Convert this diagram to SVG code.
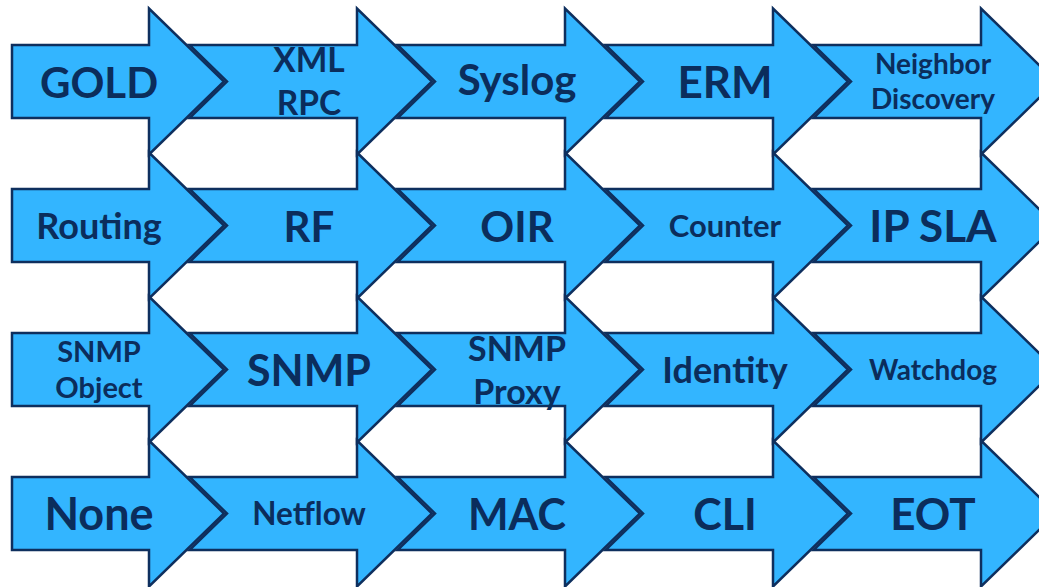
<svg xmlns="http://www.w3.org/2000/svg" width="1039" height="587" viewBox="0 0 1039 587">
<style>
.a{fill:#33B5FF;stroke:#0E2F5E;stroke-width:2.5;stroke-linejoin:miter}
text{font-family:Lato,"Open Sans","Liberation Sans",sans-serif;font-weight:700;fill:#0B2D5C;text-anchor:middle}
</style>
<defs>
<path id="first" d="M12,-36.5 H149 V-73 L224,0 L149,73 V36.5 H12 Z"/>
<path id="next" d="M-18.5,-36.5 H149 V-73 L224,0 L149,73 V36.5 H-18.5 L19,0 Z"/>
</defs>
<rect width="1039" height="587" fill="#ffffff"/>
<g id="row1" transform="translate(0,81.5)">
<g id="gold"><use href="#first" class="a"/><text font-size="42" x="99" y="16">GOLD</text></g>
<g id="xmlrpc" transform="translate(208,0)"><use href="#next" class="a"/><text font-size="33.5" x="101" y="-9.5">XML</text><text font-size="33.5" x="101" y="33.5">RPC</text></g>
<g id="syslog" transform="translate(416,0)"><use href="#next" class="a"/><text font-size="42" x="101" y="13.5">Syslog</text></g>
<g id="erm" transform="translate(624,0)"><use href="#next" class="a"/><text font-size="44" x="101" y="16">ERM</text></g>
<g id="neighbor" transform="translate(832,0)"><use href="#next" class="a"/><text font-size="28" x="101" y="-7.5">Neighbor</text><text font-size="28" x="101" y="27.5">Discovery</text></g>
</g>
<g id="row2" transform="translate(0,225.5)">
<g id="routing"><use href="#first" class="a"/><text font-size="36" x="99" y="13.5">Routing</text></g>
<g id="rf" transform="translate(208,0)"><use href="#next" class="a"/><text font-size="42" x="101" y="16.5">RF</text></g>
<g id="oir" transform="translate(416,0)"><use href="#next" class="a"/><text font-size="42" x="101" y="16.5">OIR</text></g>
<g id="counter" transform="translate(624,0)"><use href="#next" class="a"/><text font-size="31" x="101" y="11.5">Counter</text></g>
<g id="ipsla" transform="translate(832,0)"><use href="#next" class="a"/><text font-size="44" x="101" y="16.5">IP SLA</text></g>
</g>
<g id="row3" transform="translate(0,369.5)">
<g id="snmpobject"><use href="#first" class="a"/><text font-size="29" x="99" y="-7.5">SNMP</text><text font-size="29" x="99" y="28.5">Object</text></g>
<g id="snmp" transform="translate(208,0)"><use href="#next" class="a"/><text font-size="43" x="101" y="16">SNMP</text></g>
<g id="snmpproxy" transform="translate(416,0)"><use href="#next" class="a"/><text font-size="34" x="101" y="-8.5">SNMP</text><text font-size="34" x="101" y="34.5">Proxy</text></g>
<g id="identity" transform="translate(624,0)"><use href="#next" class="a"/><text font-size="36" x="101" y="13.5">Identity</text></g>
<g id="watchdog" transform="translate(832,0)"><use href="#next" class="a"/><text font-size="28" x="101" y="10.5">Watchdog</text></g>
</g>
<g id="row4" transform="translate(0,513.5)">
<g id="none"><use href="#first" class="a"/><text font-size="45" x="99" y="16">None</text></g>
<g id="netflow" transform="translate(208,0)"><use href="#next" class="a"/><text font-size="31.5" x="101" y="11">Netflow</text></g>
<g id="mac" transform="translate(416,0)"><use href="#next" class="a"/><text font-size="43" x="101" y="16">MAC</text></g>
<g id="cli" transform="translate(624,0)"><use href="#next" class="a"/><text font-size="43" x="101" y="16">CLI</text></g>
<g id="eot" transform="translate(832,0)"><use href="#next" class="a"/><text font-size="44" x="101" y="16">EOT</text></g>
</g>
<g id="connectors"></g>
</svg>
